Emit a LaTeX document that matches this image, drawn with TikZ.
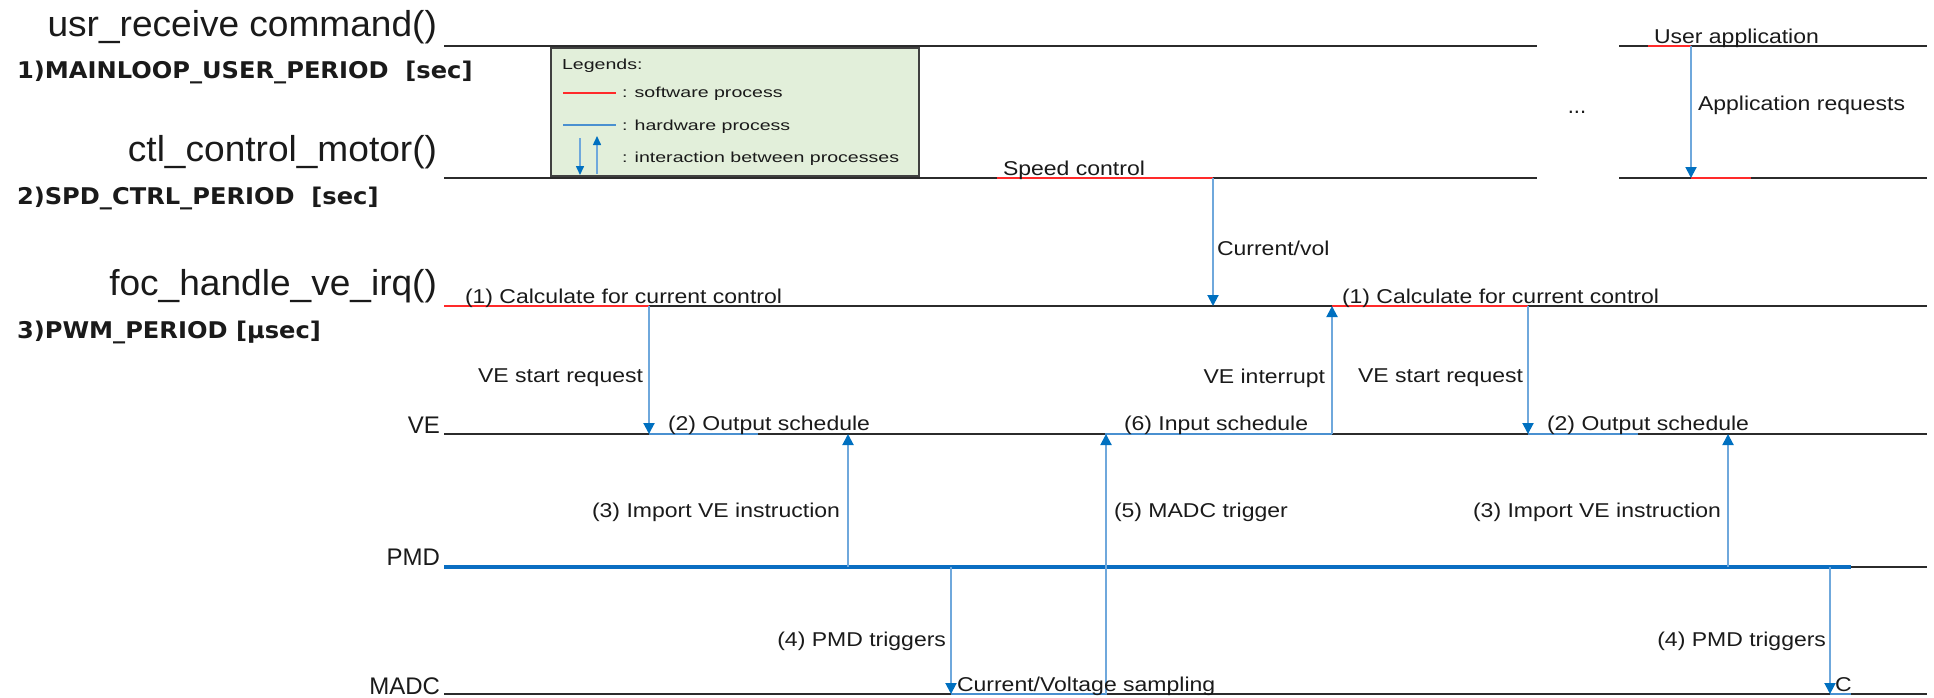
\documentclass[tikz,border=0pt]{standalone}
\usepackage{fontspec}
\usepackage{graphicx}
\setmainfont{Liberation Sans}
\newfontfamily\headfont{DejaVu Sans}
\usetikzlibrary{arrows.meta}

\definecolor{swred}{HTML}{FF2A2A}
\definecolor{hwblue}{HTML}{4A90D0}
\definecolor{arrowblue}{HTML}{6FA8DC}
\definecolor{tipblue}{HTML}{0070C0}
\definecolor{busblue}{HTML}{0A6EC2}
\definecolor{axisgray}{HTML}{2B2B2B}
\definecolor{legfill}{HTML}{E2EFDA}
\definecolor{legedge}{HTML}{404040}
\definecolor{txt}{HTML}{1A1A1A}

% text flavours
\newcommand\smalllbl[1]{\scalebox{1.15}[1]{\fontsize{20}{24}\selectfont #1}}
\newcommand\funclbl[1]{\scalebox{1.03}[1]{\fontsize{36}{40}\selectfont #1}}
\newcommand\periodlbl[1]{\scalebox{1.05}[1]{\headfont\bfseries\fontsize{23}{27}\selectfont #1}}
\newcommand\unitlbl[1]{\fontsize{24}{28}\selectfont #1}
\newcommand\leglbl[1]{\scalebox{1.35}[1]{\fontsize{14.5}{17}\selectfont #1}}

\begin{document}
\begin{tikzpicture}[x=1pt,y=-1pt,
  every node/.style={inner sep=0pt, outer sep=0pt, text=txt},
  track/.style={draw=axisgray, line width=2pt},
  sw/.style={draw=swred, line width=2pt},
  hw/.style={draw=hwblue, line width=2pt},
  bus/.style={draw=busblue, line width=4pt},
  msg/.style={draw=arrowblue, line width=2pt,
    -{Triangle[width=11pt,length=11pt,color=tipblue]}},
  legmsg/.style={draw=arrowblue, line width=1.5pt,
    -{Triangle[width=8pt,length=9pt,color=tipblue]}},
  onleft/.style={anchor=east},
  onright/.style={anchor=west},
  online/.style={anchor=base west},
]
\useasboundingbox (0,0) rectangle (1934,697);

% ---------- time tracks ----------
\draw[track] (444,46) -- (1537,46);
\draw[track] (1619,46) -- (1927,46);
\draw[track] (444,178) -- (1537,178);
\draw[track] (1619,178) -- (1927,178);
\draw[track] (444,306) -- (1927,306);
\draw[track] (444,434) -- (1927,434);
\draw[track] (444,567) -- (1927,567);
\draw[track] (444,694) -- (1927,694);

% ---------- legend ----------
\node[draw=legedge, fill=legfill, line width=2pt, anchor=north west,
      minimum width=368pt, minimum height=128pt] (legend) at (551,48) {};
\node[onright] (legtitle) at (562,66) {\leglbl{Legends:}};
\draw[sw] (563,93) -- (616,93);
\node[onright] (legsw) at (622,94) {\leglbl{: software process}};
\draw[hw] (563,125) -- (616,125);
\node[onright] (leghw) at (622,127) {\leglbl{: hardware process}};
\coordinate (ldA) at (580,138);
\coordinate (ldB) at (580,175);
\coordinate (luA) at (597,174);
\coordinate (luB) at (597,136);
\draw[legmsg] (ldA) -- (ldB);
\draw[legmsg] (luA) -- (luB);
\node[onright] (legia) at (622,159) {\leglbl{: interaction between processes}};

% ---------- software / hardware activity ----------
\draw[sw] (1648,46) -- (1691,46);
\draw[sw] (997,178) -- (1213,178);
\draw[sw] (1691,178) -- (1751,178);
\draw[sw] (444,306) -- (649,306);
\draw[sw] (1332,306) -- (1528,306);
\draw[hw] (649,434) -- (758,434);
\draw[hw] (1105,434) -- (1332,434);
\draw[hw] (1528,434) -- (1638,434);
\draw[bus] (444,567) -- (1851,567);
\draw[hw] (951,694) -- (1107,694);
\draw[hw] (1830,694) -- (1851,694);

% ---------- interactions ----------
\coordinate (appTop) at (1691,46);   \coordinate (appBot) at (1691,178);
\coordinate (cvTop) at (1213,178);   \coordinate (cvBot) at (1213,306);
\coordinate (vsTopA) at (649,306);   \coordinate (vsBotA) at (649,434);
\coordinate (viBot) at (1332,434);   \coordinate (viTop) at (1332,306);
\coordinate (vsTopB) at (1528,306);  \coordinate (vsBotB) at (1528,434);
\coordinate (imBotA) at (848,567);   \coordinate (imTopA) at (848,434);
\coordinate (imBotB) at (1728,567);  \coordinate (imTopB) at (1728,434);
\coordinate (mtBot) at (1106,694);   \coordinate (mtTop) at (1106,434);
\coordinate (ptTopA) at (951,567);   \coordinate (ptBotA) at (951,694);
\coordinate (ptTopB) at (1830,567);  \coordinate (ptBotB) at (1830,694);

\draw[msg] (appTop) -- (appBot);
\draw[msg] (cvTop) -- (cvBot);
\draw[msg] (vsTopA) -- (vsBotA);
\draw[msg] (viBot) -- (viTop);
\draw[msg] (vsTopB) -- (vsBotB);
\draw[msg] (imBotA) -- (imTopA);
\draw[msg] (imBotB) -- (imTopB);
\draw[msg] (mtBot) -- (mtTop);
\draw[msg] (ptTopA) -- (ptBotA);
\draw[msg] (ptTopB) -- (ptBotB);

% ---------- left captions ----------
\node[anchor=base east] (fusr) at (437,36) {\funclbl{usr\_receive command()}};
\node[anchor=base west] (p1) at (17,78) {\periodlbl{1)MAINLOOP\_USER\_PERIOD\ \ [sec]}};
\node[anchor=base east] (fctl) at (437,161) {\funclbl{ctl\_control\_motor()}};
\node[anchor=base west] (p2) at (17,204) {\periodlbl{2)SPD\_CTRL\_PERIOD\ \ [sec]}};
\node[anchor=base east] (ffoc) at (437,295) {\funclbl{foc\_handle\_ve\_irq()}};
\node[anchor=base west] (p3) at (17,338) {\periodlbl{3)PWM\_PERIOD [µsec]}};
\node[anchor=base east] (uve) at (440,433) {\unitlbl{VE}};
\node[anchor=base east] (upmd) at (440,565) {\unitlbl{PMD}};
\node[anchor=base east] (umadc) at (440,694) {\unitlbl{MADC}};

% ---------- labels on the tracks ----------
\node[online] (tUser) at (1654,43) {\smalllbl{User application}};
\node[online] (tSpeed) at (1003,175) {\smalllbl{Speed control}};
\node[online] (tCalcA) at (465,303) {\smalllbl{(1) Calculate for current control}};
\node[online] (tCalcB) at (1342,303) {\smalllbl{(1) Calculate for current control}};
\node[online] (tOutA) at (668,430) {\smalllbl{(2) Output schedule}};
\node[online] (tIn) at (1124,430) {\smalllbl{(6) Input schedule}};
\node[online] (tOutB) at (1547,430) {\smalllbl{(2) Output schedule}};
\node[online] (tSamp) at (957,691) {\smalllbl{Current/Voltage sampling}};
\node[online] (tC) at (1835,691) {\smalllbl{C}};
\node (dots) at (1577,112) {\fontsize{22}{24}\selectfont ...};

% ---------- labels beside the interactions ----------
\node[onright] (lApp) at (1698,105) {\smalllbl{Application requests}};
\node[onright] (lCv) at (1217,248) {\smalllbl{Current/vol}};
\node[onleft] (lVsA) at (643,378) {\smalllbl{VE start request}};
\node[onleft] (lVi) at (1325,378) {\smalllbl{VE interrupt}};
\node[onleft] (lVsB) at (1523,378) {\smalllbl{VE start request}};
\node[onleft] (lImA) at (840,512) {\smalllbl{(3) Import VE instruction}};
\node[onleft] (lImB) at (1721,512) {\smalllbl{(3) Import VE instruction}};
\node[onright] (lMt) at (1114,512) {\smalllbl{(5) MADC trigger}};
\node[onleft] (lPtA) at (946,641) {\smalllbl{(4) PMD triggers}};
\node[onleft] (lPtB) at (1826,641) {\smalllbl{(4) PMD triggers}};
\end{tikzpicture}
\end{document}
